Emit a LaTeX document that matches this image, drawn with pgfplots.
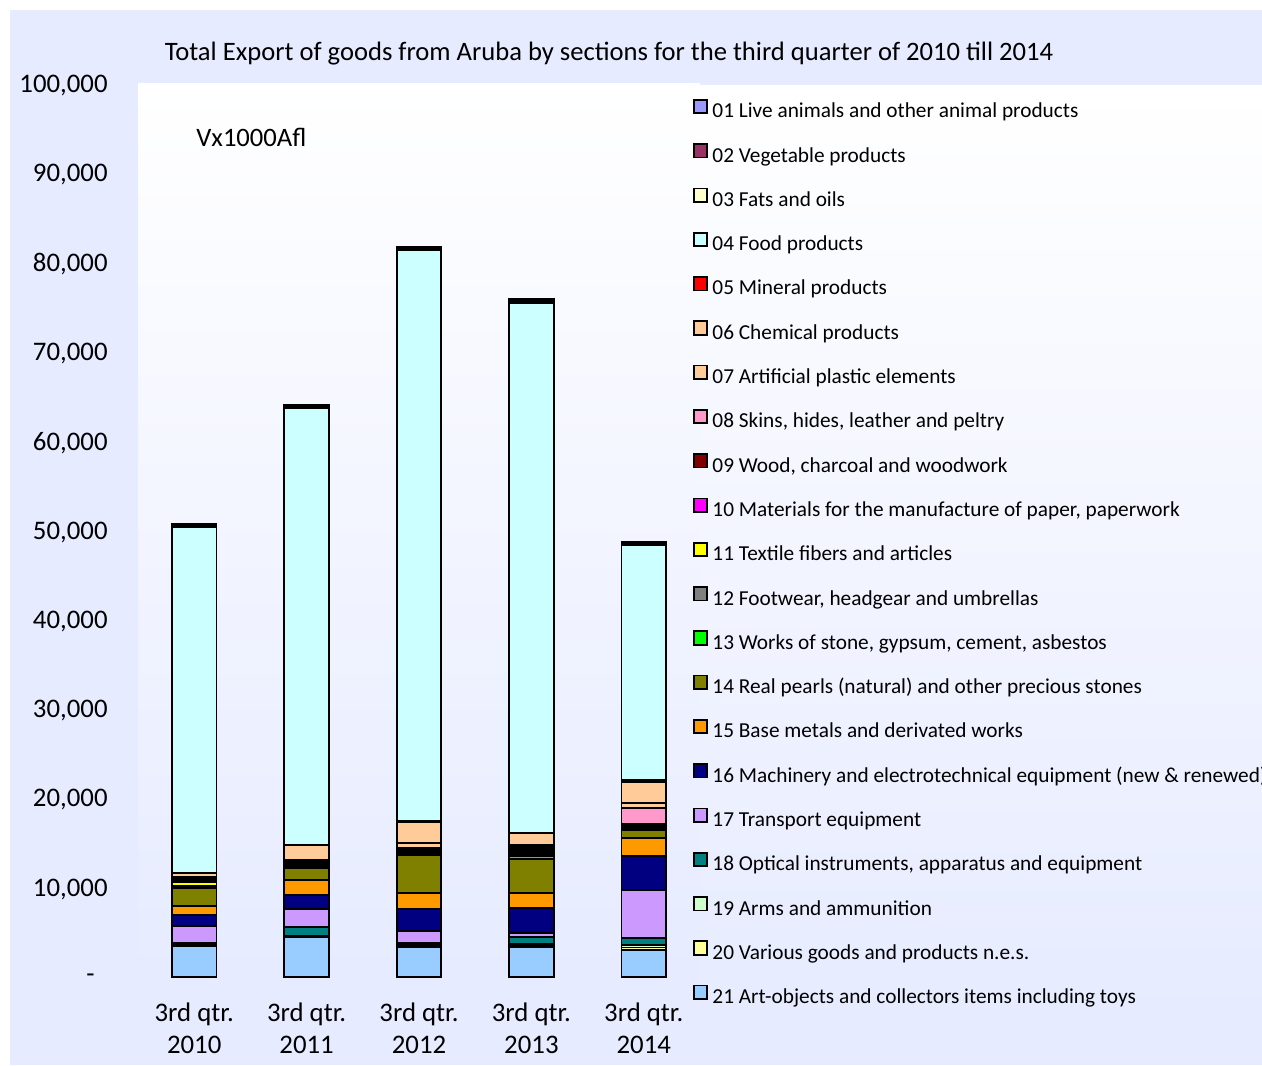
\documentclass[border=0pt]{standalone}
\usepackage{pgfplots}
\pgfplotsset{compat=1.18}
\usepackage{pgfplotstable}
\usepackage{fontspec}
\setmainfont{Carlito}

\definecolor{bgout}{RGB}{230,235,255}
\definecolor{c01}{HTML}{9999FF}
\definecolor{c02}{HTML}{993366}
\definecolor{c03}{HTML}{FFFFCC}
\definecolor{c04}{HTML}{CCFFFF}
\definecolor{c05}{HTML}{FF0000}
\definecolor{c06}{HTML}{FFCC99}
\definecolor{c07}{HTML}{FFCC99}
\definecolor{c08}{HTML}{FF99CC}
\definecolor{c09}{HTML}{800000}
\definecolor{c10}{HTML}{FF00FF}
\definecolor{c11}{HTML}{FFFF00}
\definecolor{c12}{HTML}{808080}
\definecolor{c13}{HTML}{00FF00}
\definecolor{c14}{HTML}{808000}
\definecolor{c15}{HTML}{FF9900}
\definecolor{c16}{HTML}{000080}
\definecolor{c17}{HTML}{CC99FF}
\definecolor{c18}{HTML}{008080}
\definecolor{c19}{HTML}{CCFFCC}
\definecolor{c20}{HTML}{FFFF99}
\definecolor{c21}{HTML}{99CCFF}

% export values, x1000 Afl, 3rd quarter 2010..2014
\pgfplotstableread{
x s01 s02 s03 s04 s05 s06 s07 s08 s09 s10 s11 s12 s13 s14 s15 s16 s17 s18 s19 s20 s21
0 100 100 100 38690 60 430 150 100 165 165 440 100 100 2050 1010 1230 1870 170 120 120 3430
1 110 120 120 48860 60 1630 150 140 140 130 130 130 130 1340 1680 1570 2010 1030 60 60 4450
2 110 110 120 63960 60 2390 590 130 130 130 130 130 130 4260 1720 2470 1370 240 120 120 3330
3 140 150 150 59310 80 1310 230 220 230 200 200 200 250 3810 1750 2730 480 780 160 150 3390
4 110 110 110 26330 180 2420 560 1790 130 120 130 130 130 860 2020 3840 5340 820 280 280 3020
}\data

\begin{document}
\begin{tikzpicture}
\begin{scope}[x=0.5pt,y=-0.5pt]
\fill[white] (0,0) rectangle (1262,1065);
\fill[bgout] (10,10) rectangle (1262,1065);
\shade[top color=white,bottom color=bgout] (138,84) rectangle (700,977);
\shade[top color=white,bottom color=bgout] (700,86) rectangle (1262,1020);
\node[font=\fontsize{13.3}{16}\selectfont] at (609,54) {Total Export of goods from Aruba by sections for the third quarter of 2010 till 2014};
\node[anchor=west,inner sep=0pt,font=\fontsize{13.3}{16}\selectfont] at (196,137) {Vx1000Afl};
\end{scope}
\begin{axis}[
    at={(69pt,-488.5pt)}, anchor=south west,
    scale only axis, width=281pt, height=446.5pt,
    ybar stacked, bar width=22.3pt,
    xmin=-0.5, xmax=4.5, ymin=0, ymax=100000,
    scaled y ticks=false,
    xtick={0,...,4},
    xticklabels={{3rd qtr.\\2010},{3rd qtr.\\2011},{3rd qtr.\\2012},{3rd qtr.\\2013},{3rd qtr.\\2014}},
    ytick={0,10000,...,100000},
    yticklabels={{-\hspace*{6.5pt}},{10,000},{20,000},{30,000},{40,000},{50,000},{60,000},{70,000},{80,000},{90,000},{100,000}},
    axis line style={draw=none}, major tick length=0pt,
    tick label style={font=\fontsize{13.4}{16}\selectfont},
    yticklabel style={anchor=east, inner sep=0pt, xshift=-15pt, yshift=-0.8pt},
    xticklabel style={align=center, anchor=north, inner sep=0pt, yshift=-12.75pt},
    every axis plot/.append style={draw=black, line width=0.85pt},
    reverse legend,
    legend cell align=left,
    legend style={at={(0.9875,0.9837)}, anchor=north west, draw=none, fill=none,
        inner sep=0pt, font=\fontsize{10.65}{12}\selectfont, row sep=10.72pt,
        column sep=2.2pt, nodes={inner sep=0pt, text height=7pt, text depth=2pt}},
    legend image code/.code={\draw[#1] (0pt,-0.2pt) rectangle (6.5pt,6.5pt);},
]
\addplot[fill=c21] table[x=x,y=s21]{\data}; \addlegendentry{21 Art-objects and collectors items including toys}
\addplot[fill=c20] table[x=x,y=s20]{\data}; \addlegendentry{20 Various goods and products n.e.s.}
\addplot[fill=c19] table[x=x,y=s19]{\data}; \addlegendentry{19 Arms and ammunition}
\addplot[fill=c18] table[x=x,y=s18]{\data}; \addlegendentry{18 Optical instruments, apparatus and equipment}
\addplot[fill=c17] table[x=x,y=s17]{\data}; \addlegendentry{17 Transport equipment}
\addplot[fill=c16] table[x=x,y=s16]{\data}; \addlegendentry{16 Machinery and electrotechnical equipment (new \& renewed)}
\addplot[fill=c15] table[x=x,y=s15]{\data}; \addlegendentry{15 Base metals and derivated works}
\addplot[fill=c14] table[x=x,y=s14]{\data}; \addlegendentry{14 Real pearls (natural) and other precious stones}
\addplot[fill=c13] table[x=x,y=s13]{\data}; \addlegendentry{13 Works of stone, gypsum, cement, asbestos}
\addplot[fill=c12] table[x=x,y=s12]{\data}; \addlegendentry{12 Footwear, headgear and umbrellas}
\addplot[fill=c11] table[x=x,y=s11]{\data}; \addlegendentry{11 Textile fibers and articles}
\addplot[fill=c10] table[x=x,y=s10]{\data}; \addlegendentry{10 Materials for the manufacture of paper, paperwork}
\addplot[fill=c09] table[x=x,y=s09]{\data}; \addlegendentry{09 Wood, charcoal and woodwork}
\addplot[fill=c08] table[x=x,y=s08]{\data}; \addlegendentry{08 Skins, hides, leather and peltry}
\addplot[fill=c07] table[x=x,y=s07]{\data}; \addlegendentry{07 Artificial plastic elements}
\addplot[fill=c06] table[x=x,y=s06]{\data}; \addlegendentry{06 Chemical products}
\addplot[fill=c05] table[x=x,y=s05]{\data}; \addlegendentry{05 Mineral products}
\addplot[fill=c04] table[x=x,y=s04]{\data}; \addlegendentry{04 Food products}
\addplot[fill=c03] table[x=x,y=s03]{\data}; \addlegendentry{03 Fats and oils}
\addplot[fill=c02] table[x=x,y=s02]{\data}; \addlegendentry{02 Vegetable products}
\addplot[fill=c01] table[x=x,y=s01]{\data}; \addlegendentry{01 Live animals and other animal products}
\end{axis}
\pgfresetboundingbox
\useasboundingbox (0pt,0pt) rectangle (631pt,-532.5pt);
\end{tikzpicture}
\end{document}
